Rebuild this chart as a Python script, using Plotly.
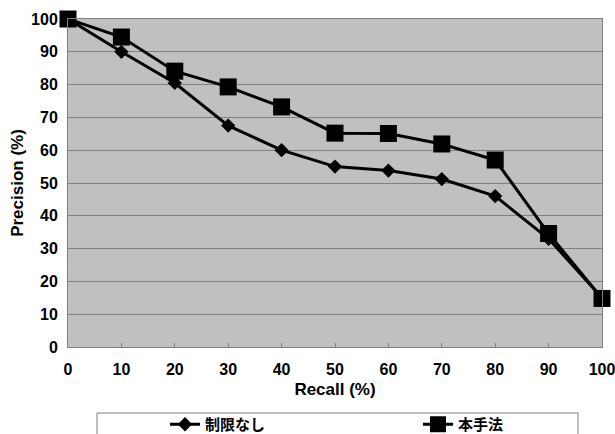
import plotly.graph_objects as go

recall = [0, 10, 20, 30, 40, 50, 60, 70, 80, 90, 100]
prec_none = [100, 90, 80.5, 67.5, 60, 55, 53.8, 51.2, 46, 33, 15]
prec_ours = [100, 94.5, 84.1, 79.3, 73.2, 65.2, 65.1, 61.9, 57, 34.6, 14.8]
name_none = "制限なし"
name_ours = "本手法"
yticks = [0, 10, 20, 30, 40, 50, 60, 70, 80, 90, 100]

W, H = 615, 434
L, R, T, B = 68, 13, 19, 87
pw, ph = W - L - R, H - T - B

def px_x(p):
    return (p - L) / pw

def px_y(p):
    return (H - B - p) / ph

fig = go.Figure()
fig.add_trace(go.Scatter(
    x=recall, y=prec_none, name=name_none, mode="lines+markers",
    line=dict(color="black", width=3),
    marker=dict(symbol="diamond", size=11, color="black"),
    cliponaxis=False,
))
fig.add_trace(go.Scatter(
    x=recall, y=prec_ours, name=name_ours, mode="lines+markers",
    line=dict(color="black", width=3),
    marker=dict(symbol="square", size=17, color="black"),
    cliponaxis=False,
))

tickfont = dict(family="Liberation Sans, Arial", size=16, color="black", weight="bold")
titlefont = dict(family="Liberation Sans, Arial", size=17, color="black", weight="bold")

fig.update_layout(
    width=W, height=H,
    margin=dict(l=L, r=R, t=T, b=B, autoexpand=False),
    paper_bgcolor="white",
    plot_bgcolor="#C0C0C0",
    showlegend=True,
    legend=dict(
        orientation="h",
        x=px_x(165), xanchor="left",
        y=px_y(408), yanchor="top",
        bgcolor="rgba(0,0,0,0)",
        borderwidth=0,
        entrywidth=208, entrywidthmode="pixels",
        font=dict(family="Noto Sans CJK JP", size=15, color="black", weight="bold"),
    ),
    xaxis=dict(
        range=[0, 100], tickvals=recall, ticktext=[str(v) for v in recall],
        showgrid=False, zeroline=False,
        showline=True, linecolor="#808080", linewidth=1, mirror=True,
        ticks="inside", ticklen=4, tickcolor="#808080",
        tickfont=tickfont, ticklabelstandoff=8, ticklabeloverflow="allow",
        title=dict(text="Recall (%)", font=titlefont, standoff=5),
    ),
    yaxis=dict(
        range=[0, 100], tickvals=yticks, ticktext=[str(v) for v in yticks],
        showgrid=True, gridcolor="#808080", gridwidth=1, zeroline=False,
        showline=True, linecolor="#808080", linewidth=1, mirror=True,
        ticks="", tickfont=tickfont, ticklabelstandoff=6, ticklabeloverflow="allow",
        title=dict(text="Precision (%)", font=titlefont, standoff=3),
    ),
    shapes=[dict(
        type="rect", xref="paper", yref="paper",
        x0=px_x(97), x1=px_x(578), y0=px_y(413), y1=px_y(445),
        line=dict(color="#808080", width=1), fillcolor="white", layer="below",
    )],
)

fig.write_html("out.html")
